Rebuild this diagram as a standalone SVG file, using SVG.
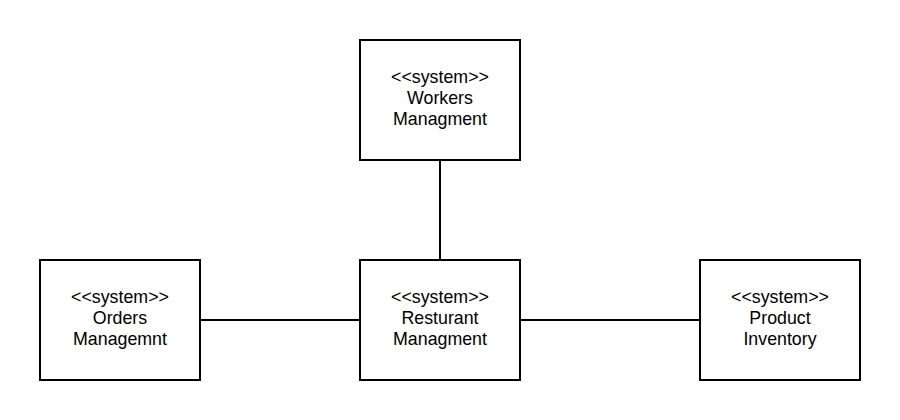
<svg xmlns="http://www.w3.org/2000/svg" width="900" height="420" viewBox="0 0 900 420">
<style>
.box{fill:#fff;stroke:#000;stroke-width:2}
.edge{stroke:#000;stroke-width:2;fill:none}
text{font-family:"Liberation Sans",Arial,sans-serif;font-size:17.8px;fill:#000;text-anchor:middle}
</style>
<rect width="900" height="420" fill="#fff"/>
<g id="connectors">
<line class="edge" x1="440" y1="160" x2="440" y2="260"/>
<line class="edge" x1="200" y1="320" x2="360" y2="320"/>
<line class="edge" x1="520" y1="320" x2="700" y2="320"/>
</g>
<g id="workers">
<rect class="box" x="360" y="40" width="160" height="120"/>
<text x="440" y="83">&lt;&lt;system&gt;&gt;</text>
<text x="440" y="104">Workers</text>
<text x="440" y="125">Managment</text>
</g>
<g id="orders">
<rect class="box" x="40" y="260" width="160" height="120"/>
<text x="120" y="303">&lt;&lt;system&gt;&gt;</text>
<text x="120" y="324">Orders</text>
<text x="120" y="345">Managemnt</text>
</g>
<g id="restaurant">
<rect class="box" x="360" y="260" width="160" height="120"/>
<text x="440" y="303">&lt;&lt;system&gt;&gt;</text>
<text x="440" y="324">Resturant</text>
<text x="440" y="345">Managment</text>
</g>
<g id="product">
<rect class="box" x="700" y="260" width="160" height="120"/>
<text x="780" y="303">&lt;&lt;system&gt;&gt;</text>
<text x="780" y="324">Product</text>
<text x="780" y="345">Inventory</text>
</g>
</svg>
